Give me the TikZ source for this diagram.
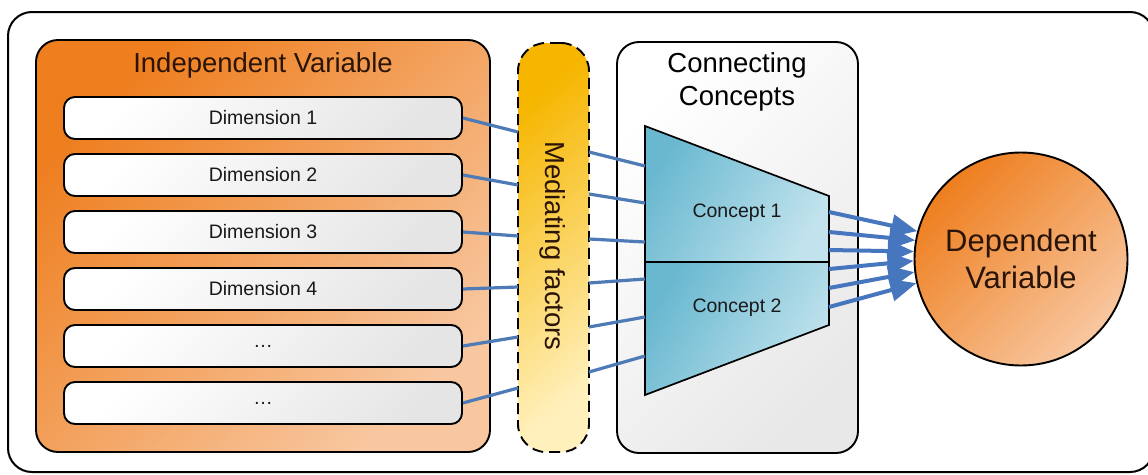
\documentclass[tikz,border=0pt]{standalone}
\usepackage{fontspec}
\setmainfont{Liberation Sans}
\usetikzlibrary{arrows.meta}
\definecolor{orA}{HTML}{EE7E1E}
\definecolor{orB}{HTML}{F8C7A0}
\definecolor{yeA}{HTML}{F6B600}
\definecolor{yeB}{HTML}{FFF0BC}
\definecolor{blA}{HTML}{69B8D0}
\definecolor{blB}{HTML}{C2E3ED}
\definecolor{lnk}{HTML}{4E7BB6}
\definecolor{arr}{HTML}{4676BE}
\definecolor{ttl}{HTML}{2A1408}
\tikzset{
  boxline/.style={draw=black, line width=1.9pt},
  ivbox/.style={boxline, rounded corners=22pt, inner sep=0pt, left color=orA, right color=orB, shading angle=45},
  dimbox/.style={boxline, rounded corners=11pt, inner sep=0pt, minimum width=398pt, minimum height=42pt,
     left color=white, right color=black!10, shading angle=45, font=\fontsize{19.5}{22}\selectfont, text=black!90},
  medbox/.style={draw=black, line width=1.9pt, dash pattern=on 11pt off 6pt, rounded corners=28pt, inner sep=0pt,
     left color=yeA, right color=yeB, shading angle=40},
  ccbox/.style={boxline, rounded corners=22pt, inner sep=0pt, left color=white, right color=black!9, shading angle=45},
  concept/.style={draw=black, line width=1.7pt, left color=blA, right color=blB, shading angle=60},
  dvnode/.style={boxline, circle, inner sep=0pt, minimum size=213pt, left color=orA, right color=orB, shading angle=45,
     align=center, font=\fontsize{31}{37}\selectfont, text=ttl},
  link/.style={draw=lnk, line width=3.2pt},
  bigarrow/.style={draw=arr, line width=4pt, -{Triangle[length=26pt,width=22pt]}},
  title/.style={font=\fontsize{27.5}{33}\selectfont, align=center},
  ctext/.style={font=\fontsize{19.5}{22}\selectfont, text=black!90}
}
\begin{document}
\begin{tikzpicture}[x=1pt,y=-1pt]
\useasboundingbox (0,0) rectangle (1148,474);
\clip (0,0) rectangle (1148,474);
% outer frame
\node[draw=black, line width=2pt, rounded corners=24pt, inner sep=0pt, minimum width=1146pt, minimum height=460pt] (frame) at (581,242) {};
% independent variable
\node[ivbox, minimum width=454pt, minimum height=412pt] (iv) at (263,246) {};
\node[title, text=ttl] (ivt) at (263,65) {Independent Variable};
\node[dimbox] (d1) at (263,118) {Dimension 1};
\node[dimbox] (d2) at (263,175) {Dimension 2};
\node[dimbox] (d3) at (263,232) {Dimension 3};
\node[dimbox] (d4) at (263,289) {Dimension 4};
\node[dimbox] (d5) at (263,346) {\dots};
\node[dimbox] (d6) at (263,403) {\dots};
% mediating factors
\node[medbox, minimum width=71pt, minimum height=409pt] (med) at (553.5,247.5) {};
\node[title, rotate=-90, text=ttl] (medt) at (553,246) {Mediating factors};
% connecting concepts
\node[ccbox, minimum width=241pt, minimum height=411pt] (cc) at (737.5,247.5) {};
\node[title, text=black] (cct) at (737,82) {Connecting\\Concepts};
\coordinate (tl) at (645,126);
\coordinate (tr) at (829,196);
\coordinate (ml) at (645,262);
\coordinate (mr) at (829,262);
\coordinate (bl) at (645,395);
\coordinate (br) at (829,325);
\path[concept] (tl) -- (tr) -- (mr) -- (ml) -- cycle;
\path[concept] (ml) -- (mr) -- (br) -- (bl) -- cycle;
\node[ctext] (c1) at (737,213) {Concept 1};
\node[ctext] (c2) at (737,308) {Concept 2};
% dependent variable
\node[dvnode] (dv) at (1021,259) {Dependent\\Variable};
% link end points
\coordinate (m1) at (518,132);
\coordinate (m2) at (518,185);
\coordinate (m3) at (518,236);
\coordinate (m4) at (518,287);
\coordinate (m5) at (518,337);
\coordinate (m6) at (518,388);
\coordinate (n1) at (589,152);
\coordinate (n2) at (589,194);
\coordinate (n3) at (589,239);
\coordinate (n4) at (589,283);
\coordinate (n5) at (589,327);
\coordinate (n6) at (589,372);
\coordinate (k1) at (645,166);
\coordinate (k2) at (645,203);
\coordinate (k3) at (645,242);
\coordinate (k4) at (645,279);
\coordinate (k5) at (645,317);
\coordinate (k6) at (645,356);
\coordinate (a1) at (829,212);
\coordinate (a2) at (829,232);
\coordinate (a3) at (829,250);
\coordinate (a4) at (829,269);
\coordinate (a5) at (829,288);
\coordinate (a6) at (829,307);
% links
\draw[link] (d1.east) -- (m1);
\draw[link] (d2.east) -- (m2);
\draw[link] (d3.east) -- (m3);
\draw[link] (d4.east) -- (m4);
\draw[link] (d5.east) -- (m5);
\draw[link] (d6.east) -- (m6);
\draw[link] (n1) -- (k1);
\draw[link] (n2) -- (k2);
\draw[link] (n3) -- (k3);
\draw[link] (n4) -- (k4);
\draw[link] (n5) -- (k5);
\draw[link] (n6) -- (k6);
% arrows
\draw[bigarrow] (a1) -- (dv.165.3);
\draw[bigarrow] (a2) -- (dv.170.8);
\draw[bigarrow] (a3) -- (dv.176.2);
\draw[bigarrow] (a4) -- (dv.181.6);
\draw[bigarrow] (a5) -- (dv.187.0);
\draw[bigarrow] (a6) -- (dv.193.0);
\end{tikzpicture}
\end{document}
